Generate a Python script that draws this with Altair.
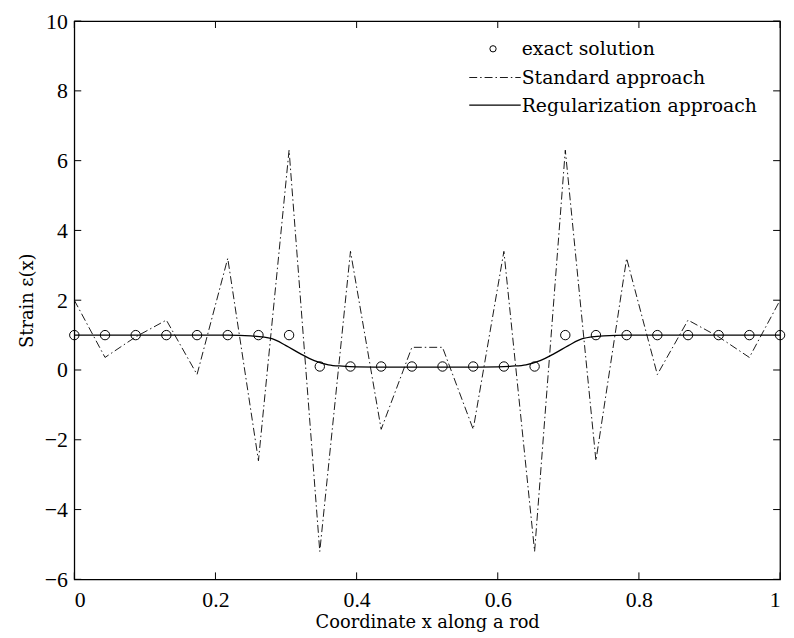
import altair as alt
import pandas as pd

# ---- data ----
x_nodes = [0.0, 0.0435, 0.0870, 0.1304, 0.1739, 0.2174, 0.2609, 0.3043,
           0.3478, 0.3913, 0.4348, 0.4783, 0.5217, 0.5652, 0.6087, 0.6522,
           0.6957, 0.7391, 0.7826, 0.8261, 0.8696, 0.9130, 0.9565, 1.0]
exact = [1, 1, 1, 1, 1, 1, 1, 1,
         0.1, 0.1, 0.1, 0.1, 0.1, 0.1, 0.1, 0.1,
         1, 1, 1, 1, 1, 1, 1, 1]
standard = [2.0, 0.36, 0.95, 1.43, -0.13, 3.2, -2.6, 6.3,
            -5.2, 3.4, -1.7, 0.65, 0.65, -1.7, 3.4, -5.2,
            6.3, -2.6, 3.2, -0.13, 1.43, 0.95, 0.36, 2.0]
reg_x = [0.0, 0.2174, 0.25, 0.28, 0.30, 0.32, 0.34, 0.36, 0.38, 0.40, 0.45,
         0.50, 0.55, 0.60, 0.62, 0.64, 0.66, 0.68, 0.70, 0.72, 0.75, 0.7826, 1.0]
reg_y = [1.0, 1.0, 0.98, 0.9, 0.70, 0.47, 0.27, 0.15, 0.11, 0.09, 0.08,
         0.08, 0.08, 0.09, 0.11, 0.15, 0.27, 0.47, 0.70, 0.9, 0.98, 1.0, 1.0]
x_ticks = [0, 0.2, 0.4, 0.6, 0.8, 1]
y_ticks = [-6, -4, -2, 0, 2, 4, 6, 8, 10]
legend_labels = ["exact solution", "Standard approach", "Regularization approach"]

W, H = 713, 564
TICK = 7
SERIF_T = "Liberation Serif"
SERIF_CM = "DejaVu Serif"

nodes = pd.DataFrame({"x": x_nodes, "exact": exact, "standard": standard})
reg = pd.DataFrame({"x": reg_x, "y": reg_y})
xt = pd.DataFrame({"v": x_ticks})
yt = pd.DataFrame({"v": y_ticks})
one = pd.DataFrame({"k": [0]})

xs = alt.Scale(domain=[0, 1], nice=False, zero=False)
ys = alt.Scale(domain=[-6, 10], nice=False, zero=False)

x_axis = alt.Axis(values=x_ticks, format="~r", title="Coordinate x along a rod",
                  labelPadding=10, titleBaseline="alphabetic", titleY=49)
y_axis = alt.Axis(values=y_ticks, format="~r", title="Strain ε(x)",
                  labelPadding=7, titleBaseline="alphabetic", titleX=-42)

std_line = alt.Chart(nodes).mark_line(
    color="black", strokeWidth=0.9, strokeDash=[8, 3, 1.5, 3]
).encode(
    x=alt.X("x:Q", scale=xs, axis=x_axis),
    y=alt.Y("standard:Q", scale=ys, axis=y_axis),
)

reg_line = alt.Chart(reg).mark_line(
    color="black", strokeWidth=1.3, interpolate="monotone"
).encode(
    x=alt.X("x:Q", scale=xs),
    y=alt.Y("y:Q", scale=ys),
)

circles = alt.Chart(nodes).mark_point(
    shape="circle", filled=False, size=90, color="black", strokeWidth=1, opacity=1
).encode(
    x=alt.X("x:Q", scale=xs),
    y=alt.Y("exact:Q", scale=ys),
)

tick_style = dict(color="black", strokeWidth=1)
bottom_ticks = alt.Chart(xt).mark_rule(**tick_style).encode(
    x=alt.X("v:Q", scale=xs), y=alt.value(H), y2=alt.value(H - TICK))
top_ticks = alt.Chart(xt).mark_rule(**tick_style).encode(
    x=alt.X("v:Q", scale=xs), y=alt.value(0), y2=alt.value(TICK))
left_ticks = alt.Chart(yt).mark_rule(**tick_style).encode(
    y=alt.Y("v:Q", scale=ys), x=alt.value(0), x2=alt.value(TICK))
right_ticks = alt.Chart(yt).mark_rule(**tick_style).encode(
    y=alt.Y("v:Q", scale=ys), x=alt.value(W), x2=alt.value(W - TICK))

# ---- legend (manual, no box) ----
LX = 451
leg_circle = alt.Chart(one).mark_point(
    shape="circle", filled=False, size=40, color="black", strokeWidth=1, opacity=1
).encode(x=alt.value(423), y=alt.value(28))
leg_std = alt.Chart(one).mark_rule(
    color="black", strokeWidth=0.9, strokeDash=[8, 3, 1.5, 3]
).encode(x=alt.value(399), x2=alt.value(LX), y=alt.value(57))
leg_reg = alt.Chart(one).mark_rule(color="black", strokeWidth=1.3).encode(
    x=alt.value(399), x2=alt.value(LX), y=alt.value(85))
leg_text_style = dict(font=SERIF_CM, fontSize=19, color="black", align="left",
                      baseline="alphabetic")
leg_t1 = alt.Chart(one).mark_text(**leg_text_style).encode(
    x=alt.value(LX + 1), y=alt.value(34), text=alt.value(legend_labels[0]))
leg_t2 = alt.Chart(one).mark_text(**leg_text_style).encode(
    x=alt.value(LX + 1), y=alt.value(64), text=alt.value(legend_labels[1]))
leg_t3 = alt.Chart(one).mark_text(**leg_text_style).encode(
    x=alt.value(LX + 1), y=alt.value(92), text=alt.value(legend_labels[2]))

chart = alt.layer(
    std_line, reg_line, circles,
    bottom_ticks, top_ticks, left_ticks, right_ticks,
    leg_circle, leg_std, leg_reg, leg_t1, leg_t2, leg_t3,
).properties(
    width=W, height=H,
    autosize=alt.AutoSizeParams(type="none"),
    padding={"left": 67, "top": 10, "right": 6, "bottom": 52},
    background="white",
).configure_view(
    stroke="black", strokeWidth=1.3
).configure_axis(
    domain=False, ticks=False, grid=False,
    labelFont=SERIF_T, labelFontSize=22, labelColor="black",
    titleFont=SERIF_CM, titleFontSize=18, titleFontWeight="normal", titleColor="black",
)

chart.save("out.html", embed_options={"renderer": "svg", "actions": False})
